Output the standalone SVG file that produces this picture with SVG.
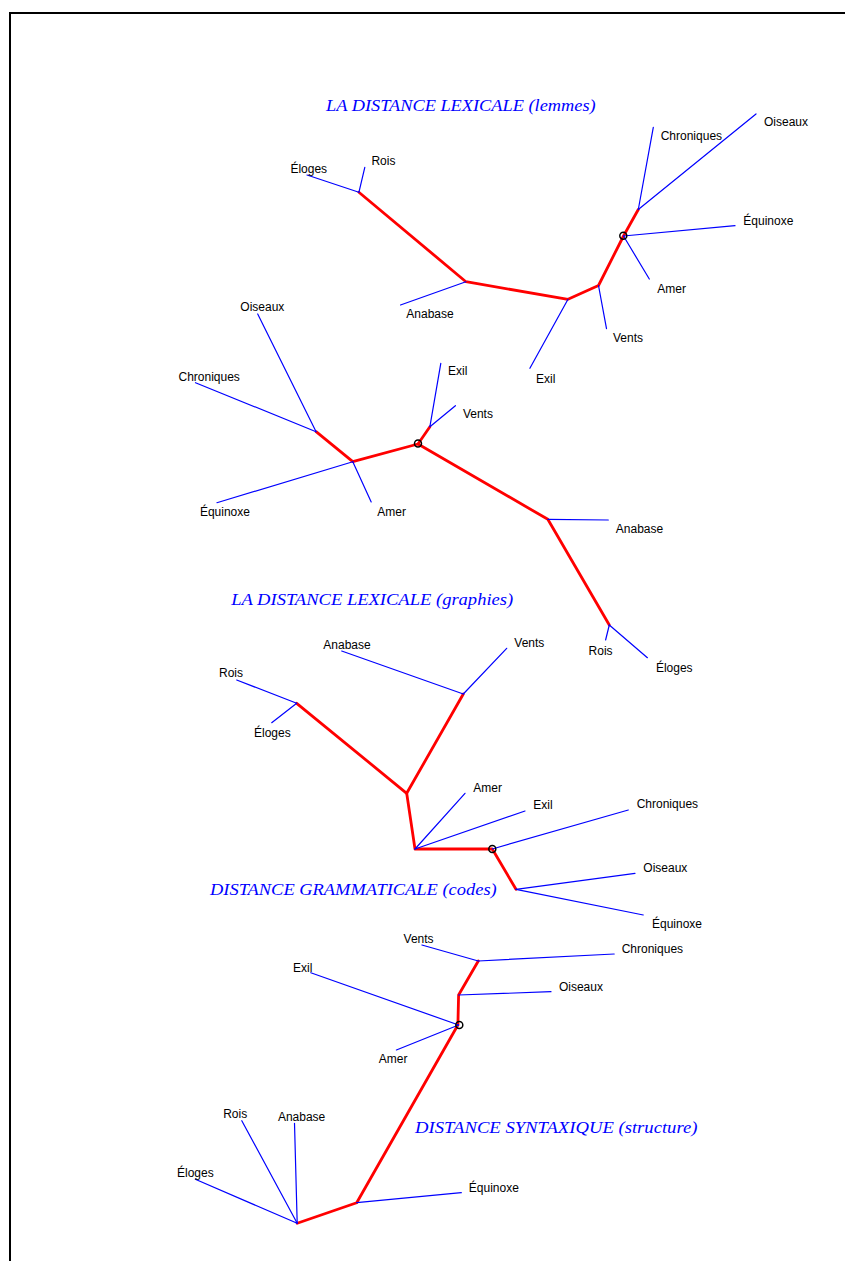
<svg xmlns="http://www.w3.org/2000/svg" width="845" height="1261" viewBox="0 0 845 1261">
<style>
.bg{fill:#ffffff}
.frame{fill:none;stroke:#000;stroke-width:2}
.br{fill:none;stroke:#0000ff;stroke-width:1.2;stroke-linecap:round}
.in{fill:none;stroke:#ff0000;stroke-width:2.8;stroke-linecap:round;stroke-linejoin:round}
.root{fill:none;stroke:#000;stroke-width:1.5}
.lab{font-family:"Liberation Sans",Arial,sans-serif;font-size:12px;fill:#000}
.title{font-family:"Liberation Serif","Times New Roman",serif;font-style:italic;font-size:17px;fill:#0000ff}
</style>
<rect class="bg" x="0" y="0" width="845" height="1261"/>
<path class="frame" d="M10,1261 V13 H845"/>

<g id="connectors">
  <!-- Tree 1: lemmes -->
  <polyline class="in" points="358.9,192.3 465.9,281.7 568,299.3 598.5,285.5 623.5,236 638.3,209.5"/>
  <line class="br" x1="358.9" y1="192.3" x2="307" y2="175"/>
  <line class="br" x1="358.9" y1="192.3" x2="364.8" y2="167.3"/>
  <line class="br" x1="465.9" y1="281.7" x2="400.5" y2="305"/>
  <line class="br" x1="568" y1="299.3" x2="529.9" y2="368.3"/>
  <line class="br" x1="598.5" y1="285.5" x2="606.5" y2="328.7"/>
  <line class="br" x1="638.3" y1="209.5" x2="653.3" y2="127.3"/>
  <line class="br" x1="638.3" y1="209.5" x2="756" y2="114"/>
  <line class="br" x1="623.5" y1="236" x2="735" y2="225.7"/>
  <line class="br" x1="623.5" y1="236" x2="649.3" y2="279"/>

  <!-- Tree 2: graphies -->
  <polyline class="in" points="316.1,431.7 352.8,461.7 418,444 547.8,519.3 609.3,625"/>
  <line class="in" x1="418" y1="444" x2="429.9" y2="426.7"/>
  <line class="br" x1="316.1" y1="431.7" x2="257.7" y2="314"/>
  <line class="br" x1="316.1" y1="431.7" x2="195.5" y2="382.7"/>
  <line class="br" x1="352.8" y1="461.7" x2="216.9" y2="502.7"/>
  <line class="br" x1="352.8" y1="461.7" x2="371.2" y2="502"/>
  <line class="br" x1="429.9" y1="426.7" x2="440.8" y2="363.3"/>
  <line class="br" x1="429.9" y1="426.7" x2="455.4" y2="405.7"/>
  <line class="br" x1="547.8" y1="519.3" x2="608.3" y2="520"/>
  <line class="br" x1="609.3" y1="625" x2="605.6" y2="640"/>
  <line class="br" x1="609.3" y1="625" x2="647.4" y2="657.7"/>

  <!-- Tree 3: codes -->
  <polyline class="in" points="296.7,703.3 406.7,793.3 463.3,694"/>
  <polyline class="in" points="406.7,793.3 415,849 492.3,849 516,889.3"/>
  <line class="br" x1="463.3" y1="694" x2="341.7" y2="651"/>
  <line class="br" x1="463.3" y1="694" x2="506.7" y2="648.3"/>
  <line class="br" x1="296.7" y1="703.3" x2="236.7" y2="680"/>
  <line class="br" x1="296.7" y1="703.3" x2="271.7" y2="722.7"/>
  <line class="br" x1="415" y1="849" x2="465" y2="793.3"/>
  <line class="br" x1="415" y1="849" x2="525" y2="811"/>
  <line class="br" x1="492.3" y1="849" x2="628.3" y2="810"/>
  <line class="br" x1="516" y1="889.3" x2="635" y2="873.3"/>
  <line class="br" x1="516" y1="889.3" x2="643.3" y2="915"/>

  <!-- Tree 4: structure -->
  <polyline class="in" points="478.3,961 458.6,995 457.9,1025 356.7,1202.7 297.2,1223.3"/>
  <line class="br" x1="478.3" y1="961" x2="421.9" y2="945"/>
  <line class="br" x1="478.3" y1="961" x2="614.2" y2="954"/>
  <line class="br" x1="458.6" y1="995" x2="551" y2="991.7"/>
  <line class="br" x1="458.6" y1="1025" x2="310.8" y2="972.7"/>
  <line class="br" x1="458.6" y1="1025" x2="396.4" y2="1050"/>
  <line class="br" x1="356.7" y1="1202.7" x2="461.3" y2="1192.7"/>
  <line class="br" x1="297.2" y1="1223.3" x2="195.3" y2="1179.3"/>
  <line class="br" x1="297.2" y1="1223.3" x2="241.8" y2="1120.7"/>
  <line class="br" x1="297.2" y1="1223.3" x2="294.5" y2="1123.3"/>
</g>

<g id="roots">
  <circle class="root" cx="623.3" cy="235.7" r="3.5"/>
  <circle class="root" cx="418" cy="443.5" r="3.5"/>
  <circle class="root" cx="492.3" cy="849" r="3.5"/>
  <circle class="root" cx="459.3" cy="1025" r="3.5"/>
</g>

<g id="tree-lemmes">
  <text class="title" x="326" y="110.5" textLength="269.7" lengthAdjust="spacingAndGlyphs">LA DISTANCE LEXICALE (lemmes)</text>
  <g id="t1-eloges"><text class="lab" x="290.4" y="172.7">Éloges</text></g>
  <g id="t1-rois"><text class="lab" x="371.4" y="165">Rois</text></g>
  <g id="t1-anabase"><text class="lab" x="406.3" y="318">Anabase</text></g>
  <g id="t1-exil"><text class="lab" x="536.1" y="382.7">Exil</text></g>
  <g id="t1-vents"><text class="lab" x="613" y="342.3">Vents</text></g>
  <g id="t1-chroniques"><text class="lab" x="660.7" y="139.5">Chroniques</text></g>
  <g id="t1-oiseaux"><text class="lab" x="764" y="126">Oiseaux</text></g>
  <g id="t1-equinoxe"><text class="lab" x="743.3" y="225">Équinoxe</text></g>
  <g id="t1-amer"><text class="lab" x="657.3" y="293.3">Amer</text></g>
</g>

<g id="tree-graphies">
  <text class="title" x="231.2" y="605" textLength="282" lengthAdjust="spacingAndGlyphs">LA DISTANCE LEXICALE (graphies)</text>
  <g id="t2-oiseaux"><text class="lab" x="240.3" y="310.7">Oiseaux</text></g>
  <g id="t2-chroniques"><text class="lab" x="178.5" y="380.7">Chroniques</text></g>
  <g id="t2-equinoxe"><text class="lab" x="199.9" y="516">Équinoxe</text></g>
  <g id="t2-amer"><text class="lab" x="377.3" y="516">Amer</text></g>
  <g id="t2-exil"><text class="lab" x="448" y="375.3">Exil</text></g>
  <g id="t2-vents"><text class="lab" x="462.9" y="417.7">Vents</text></g>
  <g id="t2-anabase"><text class="lab" x="615.8" y="533.3">Anabase</text></g>
  <g id="t2-rois"><text class="lab" x="588.6" y="655">Rois</text></g>
  <g id="t2-eloges"><text class="lab" x="655.9" y="671.7">Éloges</text></g>
</g>

<g id="tree-codes">
  <text class="title" x="210" y="895" textLength="286.7" lengthAdjust="spacingAndGlyphs">DISTANCE GRAMMATICALE (codes)</text>
  <g id="t3-anabase"><text class="lab" x="323.3" y="649">Anabase</text></g>
  <g id="t3-vents"><text class="lab" x="514.3" y="646.7">Vents</text></g>
  <g id="t3-rois"><text class="lab" x="219" y="677.3">Rois</text></g>
  <g id="t3-eloges"><text class="lab" x="254" y="736.7">Éloges</text></g>
  <g id="t3-amer"><text class="lab" x="473.3" y="791.7">Amer</text></g>
  <g id="t3-exil"><text class="lab" x="533.3" y="809.3">Exil</text></g>
  <g id="t3-chroniques"><text class="lab" x="636.7" y="808.3">Chroniques</text></g>
  <g id="t3-oiseaux"><text class="lab" x="643.3" y="872.3">Oiseaux</text></g>
  <g id="t3-equinoxe"><text class="lab" x="652" y="928.3">Équinoxe</text></g>
</g>

<g id="tree-structure">
  <text class="title" x="415.1" y="1132.7" textLength="282.4" lengthAdjust="spacingAndGlyphs">DISTANCE SYNTAXIQUE (structure)</text>
  <g id="t4-vents"><text class="lab" x="403.6" y="942.7">Vents</text></g>
  <g id="t4-chroniques"><text class="lab" x="621.7" y="953.3">Chroniques</text></g>
  <g id="t4-oiseaux"><text class="lab" x="558.9" y="991">Oiseaux</text></g>
  <g id="t4-exil"><text class="lab" x="293.1" y="971.7">Exil</text></g>
  <g id="t4-amer"><text class="lab" x="378.8" y="1063.3">Amer</text></g>
  <g id="t4-equinoxe"><text class="lab" x="468.8" y="1191.7">Équinoxe</text></g>
  <g id="t4-eloges"><text class="lab" x="177" y="1177">Éloges</text></g>
  <g id="t4-rois"><text class="lab" x="223.2" y="1118.3">Rois</text></g>
  <g id="t4-anabase"><text class="lab" x="277.9" y="1121">Anabase</text></g>
</g>
</svg>
